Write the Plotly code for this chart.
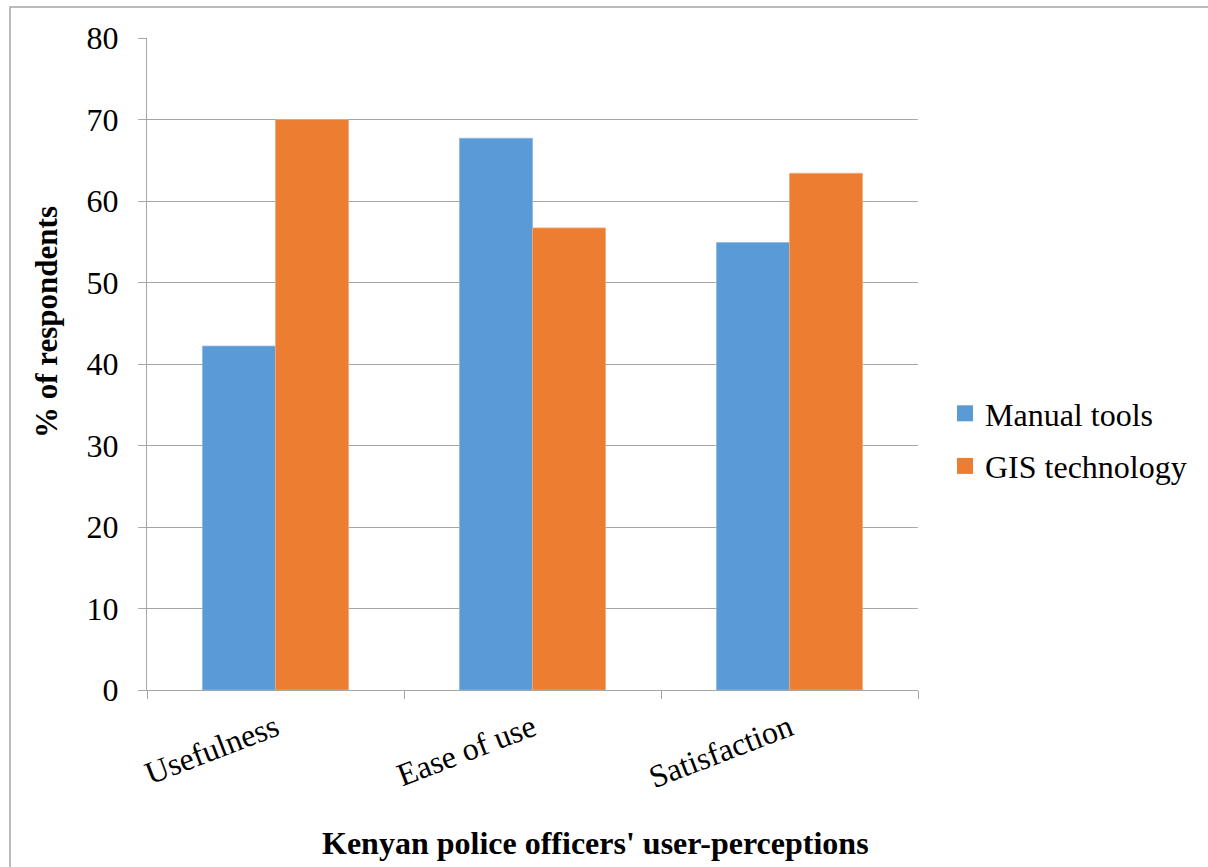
import plotly.graph_objects as go

categories = ["Usefulness", "Ease of use", "Satisfaction"]
manual_tools = [42.2, 67.7, 54.9]
gis_technology = [70.0, 56.7, 63.4]
series_names = ["Manual tools", "GIS technology"]
y_ticks = [0, 10, 20, 30, 40, 50, 60, 70, 80]

BLUE = "#5B9BD5"
ORANGE = "#ED7D31"
GRID = "#A6A6A6"
FONT = "Liberation Serif"
FS = 32

fig = go.Figure()
fig.add_trace(go.Bar(x=categories, y=manual_tools, name=series_names[0],
                     marker=dict(color=BLUE, line=dict(color="#8DB8E3", width=0.8)),
                     showlegend=False))
fig.add_trace(go.Bar(x=categories, y=gis_technology, name=series_names[1],
                     marker=dict(color=ORANGE, line=dict(color="#F3A97A", width=0.8)),
                     showlegend=False))
# legend entries with larger square swatches
for nm, col in zip(series_names, [BLUE, ORANGE]):
    fig.add_trace(go.Scatter(x=[None], y=[None], mode="markers", name=nm,
                             legendgroup=nm,
                             marker=dict(symbol="square", size=17, color=col)))

fig.update_layout(
    width=1208, height=867,
    margin=dict(l=147, r=290, t=38, b=177),
    paper_bgcolor="white", plot_bgcolor="white",
    font=dict(family=FONT, size=FS, color="black"),
    barmode="group", bargap=0.432, bargroupgap=0,
    legend=dict(x=1.035, xanchor="left", y=(690 - 440) / 652, yanchor="middle",
                font=dict(family=FONT, size=FS, color="black"), tracegroupgap=8,
                bgcolor="rgba(0,0,0,0)"),
    showlegend=True,
)
fig.update_xaxes(
    type="category", showline=True, linecolor=GRID, linewidth=1,
    ticks="outside", tickson="boundaries", ticklen=8, tickcolor=GRID,
    tickangle=-21, tickfont=dict(family=FONT, size=FS, color="black"), showgrid=False,
    ticklabelstandoff=6,
)
fig.update_yaxes(
    range=[0, 80], tickvals=y_ticks, showgrid=True, gridcolor=GRID, gridwidth=1,
    showline=True, linecolor=GRID, linewidth=1, zeroline=False,
    ticks="outside", ticklen=8, tickcolor=GRID,
    tickfont=dict(family=FONT, size=FS, color="black"), ticklabelstandoff=13,
)
fig.add_annotation(text="<b>% of respondents</b>", xref="paper", yref="paper",
                   x=(46 - 147) / 771, y=(690 - 322) / 652, textangle=-90,
                   showarrow=False, font=dict(family=FONT, size=31, color="black"),
                   xanchor="center", yanchor="middle")
fig.add_annotation(text="<b>Kenyan police officers' user-perceptions</b>", xref="paper", yref="paper",
                   x=(595 - 147) / 771, y=(690 - 843) / 652,
                   showarrow=False, font=dict(family=FONT, size=FS, color="black"),
                   xanchor="center", yanchor="middle")
# outer chart border (left and top visible)
fig.add_shape(type="rect", xref="paper", yref="paper",
              x0=(10 - 147) / 771, x1=(1230 - 147) / 771,
              y0=(690 - 890) / 652, y1=(690 - 7) / 652,
              line=dict(color="#A6A6A6", width=1.5), fillcolor="rgba(0,0,0,0)", layer="below")

fig.write_html("out.html")
